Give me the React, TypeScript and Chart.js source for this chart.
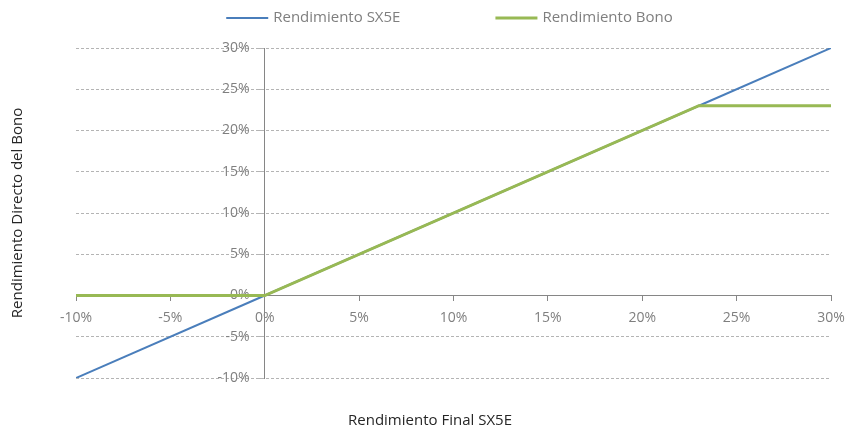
import { useEffect, useRef } from "react";
import { Chart, registerables } from "chart.js";

Chart.register(...registerables);

// ---- data ----
const finalReturn = [-10, 0, 23, 30];
const sx5eReturn = [-10, 0, 23, 30];
const bondReturn = [0, 0, 23, 23];
const axisTicks = [-10, -5, 0, 5, 10, 15, 20, 25, 30];
const seriesNames = ["Rendimiento SX5E", "Rendimiento Bono"];
const xTitle = "Rendimiento Final SX5E";
const yTitle = "Rendimiento Directo del Bono";

const FONT = "'Open Sans', 'DejaVu Sans', sans-serif";
const BLUE = "#4A7EBB";
const GREEN = "#98B954";
const AXIS = "#868686";
const GRID = "#b4b4b4";
const LABEL = "#7f7f7f";

const legendPlugin = {
  id: "lineLegend",
  afterDraw(chart: any) {
    const ctx = chart.ctx;
    const area = chart.chartArea;
    ctx.save();
    ctx.font = `15px ${FONT}`;
    const sample = 42;
    const gap = 5;
    const spacing = 95;
    const items = chart.data.datasets.map((ds: any) => ({
      text: ds.label,
      color: ds.borderColor,
      width: ds.borderWidth,
    }));
    const widths = items.map((it: any) => sample + gap + ctx.measureText(it.text).width);
    const total = widths.reduce((a: number, b: number) => a + b, 0) + spacing * (items.length - 1);
    let x = (area.left + area.right) / 2 - 4 - total / 2;
    const y = 18;
    items.forEach((it: any, i: number) => {
      ctx.strokeStyle = it.color;
      ctx.lineWidth = it.width;
      ctx.beginPath();
      ctx.moveTo(x, y);
      ctx.lineTo(x + sample, y);
      ctx.stroke();
      ctx.fillStyle = LABEL;
      ctx.textBaseline = "middle";
      ctx.textAlign = "left";
      ctx.fillText(it.text, x + sample + gap, y);
      x += widths[i] + spacing;
    });
    ctx.restore();
  },
};

const setTicks = (scale: any) => {
  scale.ticks = axisTicks.map((v) => ({ value: v }));
};

const pct = (v: any) => `${v}%`;

export default function App() {
  const ref = useRef<HTMLCanvasElement | null>(null);

  useEffect(() => {
    document.body.style.margin = "0";
    if (!ref.current) return;
    const chart = new Chart(ref.current, {
      type: "scatter",
      data: {
        datasets: [
          {
            label: seriesNames[0],
            data: finalReturn.map((x, i) => ({ x, y: sx5eReturn[i] })),
            xAxisID: "x",
            yAxisID: "y",
            showLine: true,
            borderColor: BLUE,
            backgroundColor: BLUE,
            borderWidth: 2,
            pointRadius: 0,
            tension: 0,
            order: 1,
          },
          {
            label: seriesNames[1],
            data: finalReturn.map((x, i) => ({ x, y: bondReturn[i] })),
            xAxisID: "x",
            yAxisID: "y",
            showLine: true,
            borderColor: GREEN,
            backgroundColor: GREEN,
            borderWidth: 3,
            pointRadius: 0,
            tension: 0,
            order: 0,
          },
        ],
      },
      options: {
        animation: false,
        responsive: false,
        layout: { padding: { left: 29, right: 16, top: 48, bottom: 0 } },
        plugins: {
          legend: { display: false },
          tooltip: { enabled: false },
          title: {
            display: true,
            text: xTitle,
            position: "bottom",
            color: "#262626",
            font: { family: FONT, size: 15, weight: "normal" },
            padding: { top: 34, bottom: 0 },
          },
          subtitle: {
            display: true,
            text: yTitle,
            position: "left",
            fullSize: false,
            color: "#262626",
            font: { family: FONT, size: 15, weight: "normal" },
            padding: { top: -20, bottom: 49 },
          },
        },
        scales: {
          x: {
            type: "linear",
            position: { y: 0 } as any,
            min: axisTicks[0],
            max: axisTicks[axisTicks.length - 1],
            afterBuildTicks: setTicks,
            grid: {
              drawOnChartArea: false,
              drawTicks: true,
              tickLength: 5,
              color: AXIS,
            },
            border: { display: true, color: AXIS, width: 1 },
            ticks: {
              autoSkip: false,
              maxRotation: 0,
              padding: 0,
              color: LABEL,
              font: { family: FONT, size: 14, lineHeight: 2.5 },
              callback: pct,
            },
          },
          y: {
            type: "linear",
            position: { x: 0 } as any,
            min: axisTicks[0],
            max: axisTicks[axisTicks.length - 1],
            afterBuildTicks: setTicks,
            grid: {
              drawOnChartArea: true,
              drawTicks: true,
              tickLength: 6,
              color: GRID,
            },
            border: { display: true, color: AXIS, width: 1, dash: [3, 2] },
            ticks: { display: false },
          },
          yLabel: {
            type: "linear",
            axis: "y",
            position: { x: -0.8 } as any,
            min: axisTicks[0],
            max: axisTicks[axisTicks.length - 1],
            afterBuildTicks: setTicks,
            grid: { display: false },
            border: { display: false },
            ticks: {
              autoSkip: false,
              color: LABEL,
              font: { family: FONT, size: 14 },
              callback: pct,
            },
          },
        },
      },
      plugins: [legendPlugin],
    });
    return () => chart.destroy();
  }, []);

  return (
    <div style={{ width: 847, height: 430 }}>
      <canvas ref={ref} width={847} height={430} style={{ display: "block" }} />
    </div>
  );
}
